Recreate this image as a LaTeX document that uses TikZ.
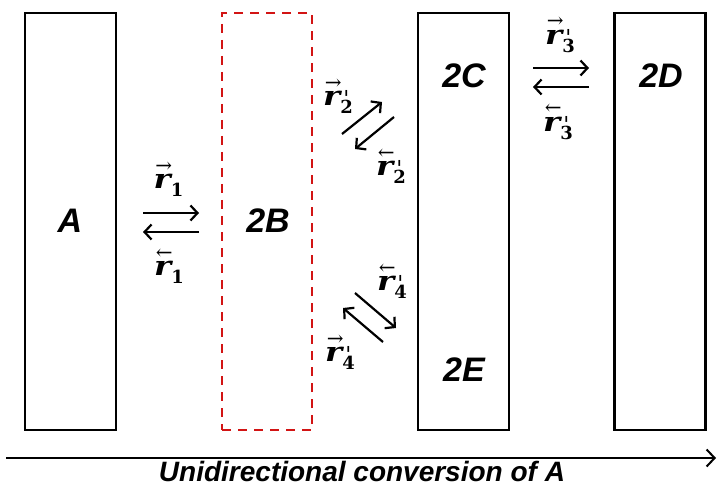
\documentclass[tikz,border=0pt]{standalone}
\usepackage{fontspec}
\setmainfont{Liberation Sans}
\newfontfamily\rfont{DejaVu Serif}
\newfontfamily\rwide[FakeStretch=1.2]{DejaVu Serif}
\usetikzlibrary{arrows.meta}
\definecolor{dashred}{RGB}{210,20,20}
% reaction-rate label: #1 arrow, #2 prime (or empty), #3 index
\newcommand{\rl}[3]{\mbox{%
  \setbox0=\hbox{\rwide\bfseries\itshape\fontsize{27}{27}\selectfont r}%
  \vbox{\offinterlineskip\hbox to\wd0{\hss\kern3pt\rfont\fontsize{20}{20}\selectfont #1\hss}\kern2pt\box0}%
  \rlap{\kern3pt\raisebox{-1pt}{\rfont\itshape\fontsize{22}{22}\selectfont #2}}%
  \raisebox{-8pt}{\rfont\bfseries\fontsize{18}{18}\selectfont #3}}}
\tikzset{
  box/.style={draw, line width=2.4pt, minimum width=91pt, minimum height=417pt, inner sep=0pt},
  dbox/.style={draw=dashred, line width=2.4pt, dash pattern=on 9pt off 7pt, minimum width=90pt, minimum height=417pt, inner sep=0pt},
  lab/.style={font=\fontsize{34}{38}\selectfont\bfseries\itshape},
  rlab/.style={inner sep=0pt},
  rarr/.style={line width=2.2pt, -{Straight Barb[length=7pt,width=15pt,line width=2.2pt]}},
  axis/.style={line width=2pt, -{Straight Barb[length=8pt,width=17pt,line width=2pt]}}
}
\begin{document}
\begin{tikzpicture}[x=1pt,y=-1pt]
\useasboundingbox (0,0) rectangle (719,486);
% boxes
\node[box] (bA) at (70.5,221.5) {};
\node[dbox] (bB) at (267,221.5) {};
\node[box] (bC) at (463.5,221.5) {};
\node[box] (bD) at (660,221.5) {};
% labels
\node[lab] (tA) at (70,221) {A};
\node[lab] (tB) at (268,221) {2B};
\node[lab] (tC) at (464,76) {2C};
\node[lab] (tE) at (464,370) {2E};
\node[lab] (tD) at (661,76) {2D};
% reaction 1
\coordinate (a1s) at (143,213); \coordinate (a1e) at (199,213);
\coordinate (b1s) at (199,232); \coordinate (b1e) at (143,232);
\draw[rarr] (a1s) -- (a1e);
\draw[rarr] (b1s) -- (b1e);
\node[rlab] (r1f) at (168.5,179) {\rl{→}{}{1}};
\node[rlab] (r1b) at (169,266) {\rl{←}{}{1}};
% reaction 2
\coordinate (a2s) at (342,134); \coordinate (a2e) at (382,102);
\coordinate (b2s) at (394,117); \coordinate (b2e) at (355,149);
\draw[rarr] (a2s) -- (a2e);
\draw[rarr] (b2s) -- (b2e);
\node[rlab] (r2f) at (338,96) {\rl{→}{'}{2}};
\node[rlab] (r2b) at (391,166) {\rl{←}{'}{2}};
% reaction 3
\coordinate (a3s) at (533,68); \coordinate (a3e) at (589,68);
\coordinate (b3s) at (589,87); \coordinate (b3e) at (533,87);
\draw[rarr] (a3s) -- (a3e);
\draw[rarr] (b3s) -- (b3e);
\node[rlab] (r3f) at (560,35) {\rl{→}{'}{3}};
\node[rlab] (r3b) at (558,122) {\rl{←}{'}{3}};
% reaction 4
\coordinate (a4s) at (383,342); \coordinate (a4e) at (343,308);
\coordinate (b4s) at (355,293); \coordinate (b4e) at (396,328);
\draw[rarr] (a4s) -- (a4e);
\draw[rarr] (b4s) -- (b4e);
\node[rlab] (r4b) at (392,281) {\rl{←}{'}{4}};
\node[rlab] (r4f) at (340,352) {\rl{→}{'}{4}};
% axis
\coordinate (ax0) at (6,458); \coordinate (ax1) at (716,458);
\draw[axis] (ax0) -- (ax1);
\node[font=\fontsize{28}{32}\selectfont\bfseries\itshape] (axl) at (362,471) {Unidirectional conversion of A};
\end{tikzpicture}
\end{document}
